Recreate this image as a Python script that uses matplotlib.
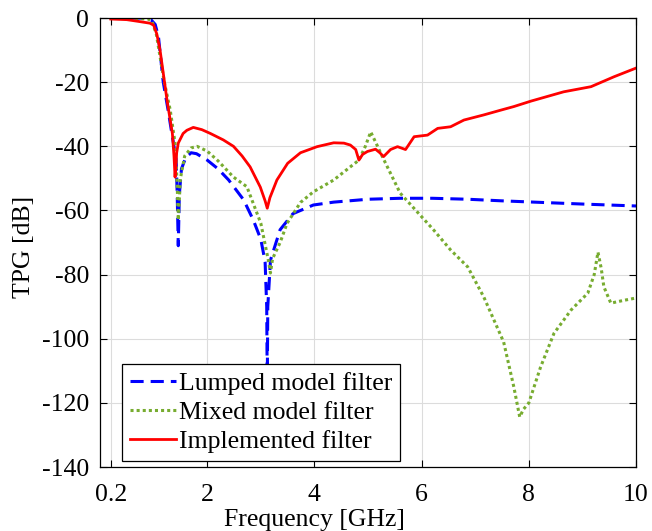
import numpy as np
import matplotlib
matplotlib.use('Agg')
import matplotlib.pyplot as plt

# Lumped model filter
f_lumped = [0.2, 0.4, 0.6, 0.8, 0.95, 1.03, 1.09, 1.18, 1.27, 1.34, 1.42, 1.44, 1.46,
            1.48, 1.52, 1.6, 1.7, 1.8, 2.0, 2.2, 2.4, 2.68, 2.86, 3.0, 3.08, 3.11, 3.12,
            3.13, 3.18, 3.36, 3.6, 3.98, 4.36, 5.0, 5.6, 6.2, 6.86, 7.5, 8.1, 9.0, 10.0]
tpg_lumped = [0, 0, 0, 0, -0.5, -2, -5.8, -20, -28.7, -36, -44, -55, -71,
              -55, -47, -43.5, -42, -42.3, -44.3, -47, -50.5, -56.7, -63, -69, -76, -90, -115,
              -90, -75.5, -66, -61, -58.3, -57.4, -56.5, -56.2, -56.2, -56.5, -57, -57.4, -58, -58.6]

# Mixed model filter
f_mixed = [0.2, 0.5, 0.9, 0.97, 1.05, 1.12, 1.2, 1.31, 1.4, 1.44, 1.46, 1.5, 1.58, 1.7,
           1.81, 2.0, 2.2, 2.49, 2.74, 3.0, 3.14, 3.18, 3.22, 3.36, 3.49, 3.74, 3.98,
           4.36, 4.67, 4.83, 4.95, 5.05, 5.15, 5.27, 5.6, 6.22, 6.54, 6.86, 7.16, 7.53,
           7.72, 7.83, 7.9, 8.0, 8.22, 8.47, 8.79, 9.1, 9.22, 9.29, 9.35, 9.4, 9.53, 9.78, 10.0]
tpg_mixed = [0, 0, -0.3, -1, -5, -12, -20, -28.7, -39, -52, -63, -50, -43, -40.5,
             -40, -41.5, -44.5, -49.6, -52.6, -64, -75.5, -79.5, -75, -70, -64, -57.5, -54.2,
             -50.5, -46.4, -44.3, -40, -35.5, -39, -43.3, -54.6, -66, -72.3, -77.6, -87, -101,
             -115, -124.4, -122, -120, -108.8, -98.3, -91, -85.8, -80, -73, -78, -83.8, -88.9, -88, -87.3]

# Implemented filter
f_impl = [0.2, 0.5, 0.7, 0.93, 1.0, 1.06, 1.12, 1.25, 1.35, 1.38, 1.40, 1.43, 1.46, 1.55,
          1.62, 1.74, 1.9, 2.06, 2.3, 2.49, 2.65, 2.8, 2.99, 3.08, 3.12, 3.17, 3.3, 3.5,
          3.74, 4.05, 4.36, 4.55, 4.67, 4.77, 4.83, 4.9, 4.99, 5.14, 5.22, 5.29, 5.42, 5.55,
          5.7, 5.86, 6.11, 6.3, 6.54, 6.79, 7.16, 7.48, 7.72, 8.04, 8.65, 9.16, 9.59, 10.0]
tpg_impl = [-0.3, -0.5, -1, -1.6, -2.2, -5, -10, -25.6, -36, -43, -49.6, -42, -39, -36,
            -35, -34.1, -34.8, -36, -38, -40, -43, -46.4, -52.7, -57, -59.3, -56, -50.5, -45.3,
            -42, -40.1, -38.9, -39, -39.6, -41, -44.3, -42.5, -41.6, -40.9, -42, -43.2, -41, -40.1,
            -41, -37, -36.5, -34.4, -33.9, -31.8, -30.2, -28.7, -27.6, -25.9, -23, -21.4, -18.3, -15.6]

x_ticks = [0.2, 2, 4, 6, 8, 10]
y_ticks = [0, -20, -40, -60, -80, -100, -120, -140]

plt.rcParams['font.family'] = 'Liberation Serif'
plt.rcParams['font.size'] = 18.5
plt.rcParams['axes.unicode_minus'] = False

fig = plt.figure(figsize=(6.52, 5.31), dpi=100)
ax = fig.add_axes([0.1534, 0.1205, 0.8221, 0.8455])

ax.plot(f_lumped, tpg_lumped, color='#0000ff', lw=2.2, linestyle=(0, (4.3, 2.3)),
        label='Lumped model filter')
ax.plot(f_mixed, tpg_mixed, color='#77ac30', lw=2.2, linestyle=(0, (1, 1)),
        label='Mixed model filter')
ax.plot(f_impl, tpg_impl, color='#ff0000', lw=2.0, label='Implemented filter')

ax.set_xlim(0, 10)
ax.set_ylim(-140, 0)
ax.set_xticks(x_ticks)
ax.set_xticklabels(['0.2', '2', '4', '6', '8', '10'])
ax.set_yticks(y_ticks)
ax.grid(True, color='#dcdcdc', lw=0.8)
ax.set_axisbelow(True)
ax.tick_params(direction='in', top=True, right=True, length=5, width=0.8)
ax.tick_params(axis='y', pad=8)
ax.tick_params(axis='x', pad=12)
for sp in ax.spines.values():
    sp.set_linewidth(0.9)

ax.set_xlabel('Frequency [GHz]')
ax.xaxis.set_label_coords(0.40, -0.094)
ax.set_ylabel('TPG [dB]')
ax.yaxis.set_label_coords(-0.121, 0.49)

leg = ax.legend(loc='lower left', bbox_to_anchor=(0.041, 0.013), borderaxespad=0,
                fancybox=False, framealpha=1, edgecolor='black', handlelength=1.8,
                handletextpad=0.1, labelspacing=0.25, borderpad=0.3)
leg.get_frame().set_linewidth(0.9)

fig.savefig('out.png', dpi=100)
